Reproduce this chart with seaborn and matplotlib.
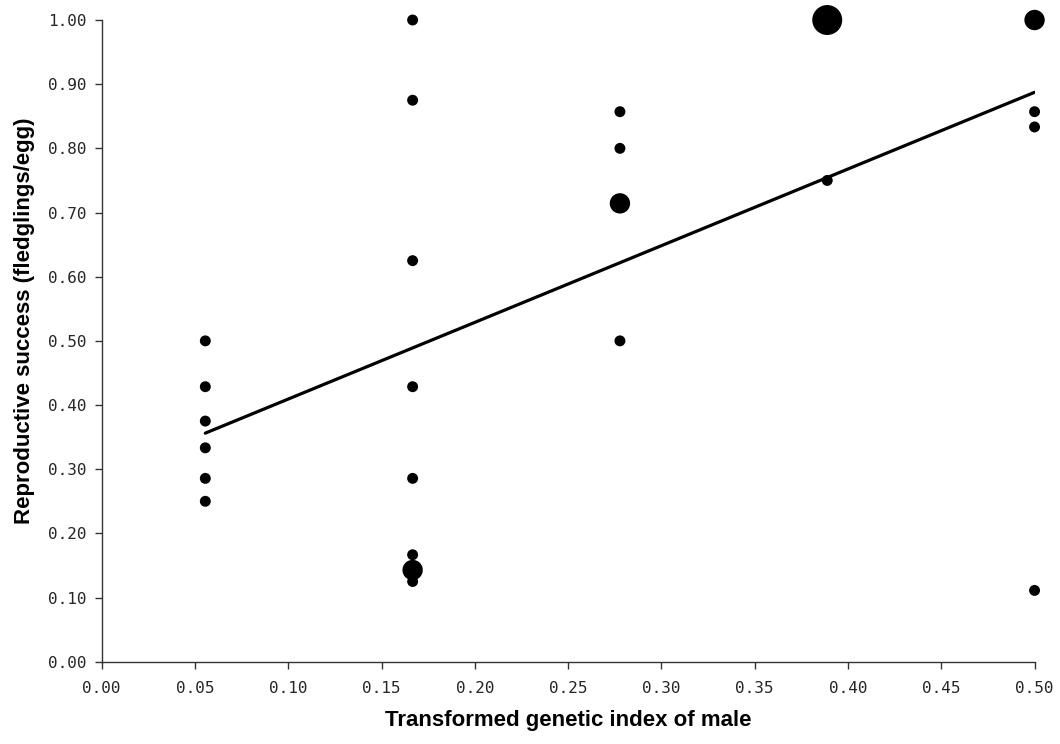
import numpy as np
import pandas as pd
import matplotlib
matplotlib.use("Agg")
import matplotlib.pyplot as plt
import seaborn as sns

# Genetic index of the male (transformed) for each nest group
genetic_index = [1/18] * 6 + [1/6] * 8 + [5/18] * 4 + [7/18] * 2 + [0.5] * 4
# Fledglings per egg for each nest
success = [0.5, 3/7, 0.375, 1/3, 2/7, 0.25,
           1.0, 0.875, 0.625, 3/7, 2/7, 1/6, 1/7, 0.125,
           6/7, 0.8, 5/7, 0.5,
           1.0, 0.75,
           1.0, 6/7, 5/6, 1/9]
# Number of nests sharing the same (index, success) pair
n_nests = [1, 1, 1, 1, 1, 1,
           1, 1, 1, 1, 1, 1, 2, 1,
           1, 1, 2, 1,
           3, 1,
           2, 1, 1, 1]

x_ticks = [0.00, 0.05, 0.10, 0.15, 0.20, 0.25, 0.30, 0.35, 0.40, 0.45, 0.50]
y_ticks = [0.00, 0.10, 0.20, 0.30, 0.40, 0.50, 0.60, 0.70, 0.80, 0.90, 1.00]

df = pd.DataFrame({"index": genetic_index, "success": success, "n": n_nests})
# one row per nest, used for the count-weighted least-squares line
df_nests = df.loc[df.index.repeat(df["n"])].reset_index(drop=True)

sns.set_style("ticks")
fig = plt.figure(figsize=(10.6, 7.44), dpi=100)
ax = fig.add_axes([0.0959, 0.1106, 0.976 - 0.0959, 0.9731 - 0.1106])

sns.scatterplot(data=df, x="index", y="success", size="n",
                sizes={1: 62, 2: 215, 3: 465}, color="black",
                edgecolor="none", linewidth=0, legend=False, ax=ax, zorder=3)
for coll in ax.collections:
    coll.set_clip_on(False)
sns.regplot(data=df_nests, x="index", y="success", scatter=False, ci=None,
            truncate=True, color="black", line_kws={"linewidth": 2.3}, ax=ax)

ax.set_xlim(0, 0.5)
ax.set_ylim(0, 1.0)
ax.set_xticks(x_ticks)
ax.set_yticks(y_ticks)
ax.set_xticklabels([f"{v:.2f}" for v in x_ticks])
ax.set_yticklabels([f"{v:.2f}" for v in y_ticks])
for lab in ax.get_xticklabels() + ax.get_yticklabels():
    lab.set_fontfamily("DejaVu Sans Mono")
    lab.set_fontsize(11.5)
    lab.set_color("#262626")
ax.tick_params(axis="both", direction="out", length=5, width=1,
               color="#333333", pad=6)
ax.tick_params(axis="x", pad=9)

for side in ["top", "right"]:
    ax.spines[side].set_visible(False)
for side in ["left", "bottom"]:
    ax.spines[side].set_color("#333333")
    ax.spines[side].set_linewidth(1)

ax.set_xlabel("Transformed genetic index of male", fontsize=16,
              fontweight="bold", family="Liberation Sans", color="black",
              labelpad=10)
ax.set_ylabel("Reproductive success (fledglings/egg)", fontsize=16,
              fontweight="bold", family="Liberation Sans", color="black",
              labelpad=9)
ax.yaxis.label.set_y(0.531)

fig.savefig("out.png", dpi=100, facecolor="white")
